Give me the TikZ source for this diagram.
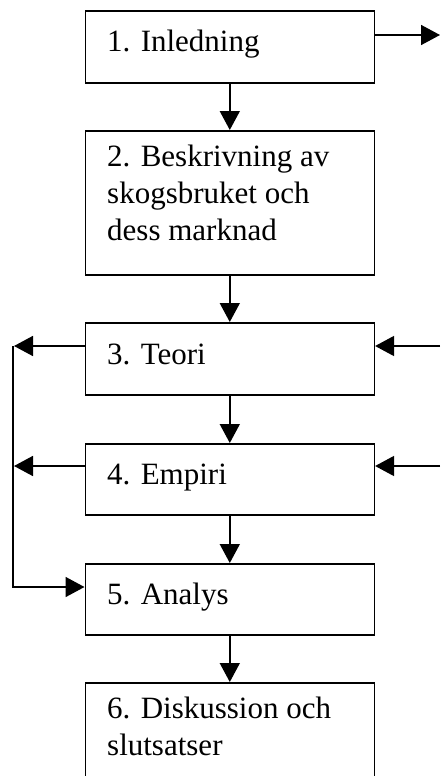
\documentclass[tikz,border=0pt]{standalone}
\usepackage{fontspec}
\setmainfont{Liberation Serif}
\usetikzlibrary{arrows.meta,calc}
\begin{document}
\begin{tikzpicture}[x=1pt,y=-1pt,
  box/.style={draw=black, line width=1.6pt, rectangle, minimum width=289pt, anchor=north west, inner sep=0pt},
  lbl/.style={font=\fontsize{31}{36.7}\selectfont, inner sep=0pt, align=left},
  arr/.style={line width=1.6pt, -{Triangle[length=19pt,width=20pt]}}]
\useasboundingbox (0,0) rectangle (440,776);
\clip (0,0) rectangle (440,776);
\fill[white] (0,0) rectangle (440,776);
% boxes
\node[box, minimum height=72pt] (n1) at (84.5,10) {};
\node[box, minimum height=144pt] (n2) at (84.5,130) {};
\node[box, minimum height=72pt] (n3) at (84.5,322) {};
\node[box, minimum height=71pt] (n4) at (84.5,443) {};
\node[box, minimum height=71pt] (n5) at (84.5,563) {};
\node[box, minimum height=130pt] (n6) at (84.5,682) {};
% labels
\node[lbl, anchor=base west] (t1) at (107,52) {1. Inledning};
\node[lbl, anchor=north west] (t2) at (107,145) {2. Beskrivning av\\skogsbruket och\\dess marknad};
\node[lbl, anchor=base west] (t3) at (107,364) {3. Teori};
\node[lbl, anchor=base west] (t4) at (107,484) {4. Empiri};
\node[lbl, anchor=base west] (t5) at (107,604) {5. Analys};
\node[lbl, anchor=north west] (t6) at (107,697) {6. Diskussion och\\slutsatser};
% vertical arrows
\draw[arr] (n1.south) -- (n2.north);
\draw[arr] (n2.south) -- (n3.north);
\draw[arr] (n3.south) -- (n4.north);
\draw[arr] (n4.south) -- (n5.north);
\draw[arr] (n5.south) -- (n6.north);
% right side
\coordinate (r1) at (440,35);
\coordinate (r3) at (440,346);
\coordinate (r4) at (440,466);
\draw[arr] (n1.east |- r1) -- (r1);
\draw[arr] (r3) -- (r3 -| n3.east);
\draw[arr] (r4) -- (r4 -| n4.east);
% left side
\coordinate (l3) at (14,346);
\coordinate (l4) at (14,466);
\coordinate (lt) at (13,346);
\coordinate (lb) at (13,587);
\draw[arr] (n3.west |- l3) -- (l3);
\draw[arr] (n4.west |- l4) -- (l4);
\draw[arr] (lt) -- (lb) -- (lb -| n5.west);
\end{tikzpicture}
\end{document}
